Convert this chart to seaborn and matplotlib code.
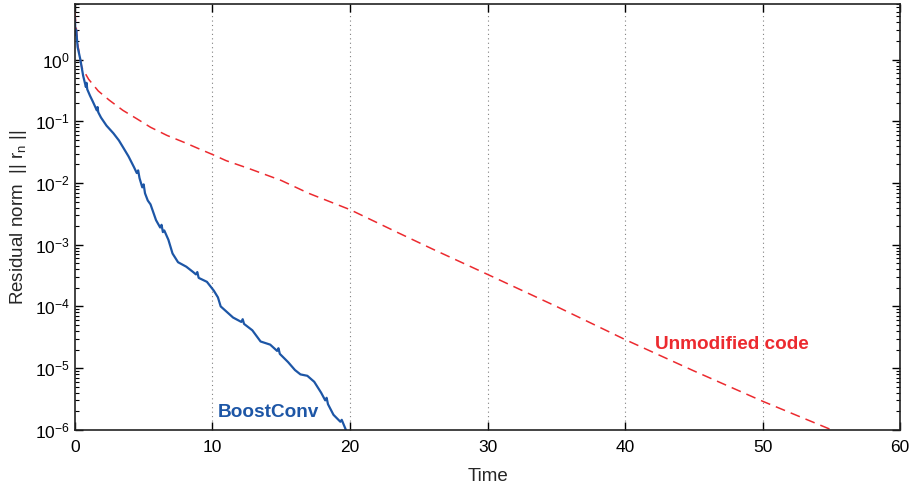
import numpy as np
import pandas as pd
import matplotlib
matplotlib.use("Agg")
import matplotlib.pyplot as plt
import seaborn as sns

# BoostConv residual (including the visible jitter)
boost_t = [0, 0.05, 0.1, 0.2, 0.4, 0.6, 0.8, 0.85, 0.9, 1.1, 1.3, 1.6, 1.65, 1.7,
           1.9, 2.3, 2.8, 3.2, 3.5, 3.9, 4.3, 4.5, 4.6, 4.7, 4.9, 5.0, 5.1, 5.3,
           5.5, 5.9, 6.2, 6.3, 6.4, 6.5, 6.8, 7.1, 7.5, 8.1, 8.6, 8.8, 8.9, 9.0,
           9.6, 10.1, 10.4, 10.6, 11.5, 12.1, 12.2, 12.3, 12.9, 13.5, 14.2, 14.7,
           14.8, 14.9, 15.5, 16.0, 16.4, 16.9, 17.4, 17.9, 18.2, 18.3, 18.4,
           18.8, 19.3, 19.4, 19.7]
boost_r = [4.8, 2.5, 3.0, 1.6, 1.0, 0.55, 0.36, 0.42, 0.33, 0.26, 0.21, 0.15, 0.17,
           0.14, 0.115, 0.085, 0.064, 0.049, 0.038, 0.027, 0.018, 0.0145, 0.016,
           0.012, 0.0085, 0.0095, 0.0068, 0.0052, 0.0045, 0.0025, 0.0019, 0.0021,
           0.0016, 0.0017, 0.0012, 7.2e-4, 5.2e-4, 4.4e-4, 3.6e-4, 3.3e-4, 3.6e-4,
           2.9e-4, 2.5e-4, 1.8e-4, 1.4e-4, 1.0e-4, 6.6e-5, 5.6e-5, 6.2e-5, 5.2e-5,
           4.1e-5, 2.7e-5, 2.4e-5, 1.9e-5, 2.1e-5, 1.7e-5, 1.25e-5, 9.3e-6, 7.9e-6,
           7.5e-6, 6.0e-6, 4.0e-6, 3.0e-6, 3.3e-6, 2.6e-6, 1.75e-6, 1.35e-6,
           1.45e-6, 1.0e-6]

# unmodified code residual
plain_t = [0, 0.2, 0.5, 1, 1.7, 2.5, 3.5, 4.5, 5.5, 6.7, 8, 9, 10, 11, 12.7, 15,
           17, 20, 23.4, 26, 30, 35, 40, 45, 50, 55]
plain_r = [6, 1.8, 0.75, 0.48, 0.31, 0.22, 0.15, 0.11, 0.08, 0.059, 0.045, 0.036,
           0.029, 0.023, 0.017, 0.011, 0.0068, 0.0037, 0.0016, 8.5e-4, 3.3e-4,
           1e-4, 2.9e-5, 9e-6, 2.9e-6, 1e-6]

xticks = [0, 10, 20, 30, 40, 50, 60]

blue = "#1d56a6"
red = "#ec2a2f"

sns.set_style("ticks")
plt.rcParams['font.family'] = ['Liberation Sans', 'DejaVu Sans']
plt.rcParams['mathtext.default'] = 'regular'

df_b = pd.DataFrame({"t": boost_t, "r": boost_r})
df_p = pd.DataFrame({"t": plain_t, "r": plain_r})

fig = plt.figure(figsize=(9.13, 4.84), dpi=100)
ax = fig.add_axes([0.082, 0.112, 0.904, 0.88])

for x in xticks[1:-1]:
    ax.axvline(x, color="#808080", ls=(0, (1, 3)), lw=0.8, zorder=0)

sns.lineplot(data=df_p, x="t", y="r", ax=ax, color=red, lw=1.1,
             estimator=None, sort=False, ls=(0, (6.5, 4)))
sns.lineplot(data=df_b, x="t", y="r", ax=ax, color=blue, lw=1.6,
             estimator=None, sort=False)

ax.set_yscale("log")
ax.set_xlim(0, 60)
ax.set_ylim(1e-6, 8)
ax.set_xticks(xticks)
ax.tick_params(which="both", direction="in", top=True, right=True,
               labelsize=12.5, colors="black")
ax.tick_params(axis="x", which="major", pad=7.5)
ax.tick_params(which="major", length=6, width=1)
ax.tick_params(which="minor", length=3, width=0.8)
ax.tick_params(axis="x", which="minor", bottom=False, top=False)
for s in ax.spines.values():
    s.set_visible(True)
    s.set_linewidth(1.2)
    s.set_color("#222222")

ax.set_xlabel("Time", fontsize=13.5, labelpad=9)
ax.set_ylabel("Residual norm  || r$_n$ ||", fontsize=13.5)

ax.text(10.4, 1.9e-6, "BoostConv", color=blue, fontsize=13.7,
        fontweight="bold", va="center", ha="left")
ax.text(42.2, 2.4e-5, "Unmodified code", color=red, fontsize=13.7,
        fontweight="bold", va="center", ha="left")

fig.savefig("out.png", dpi=100)
